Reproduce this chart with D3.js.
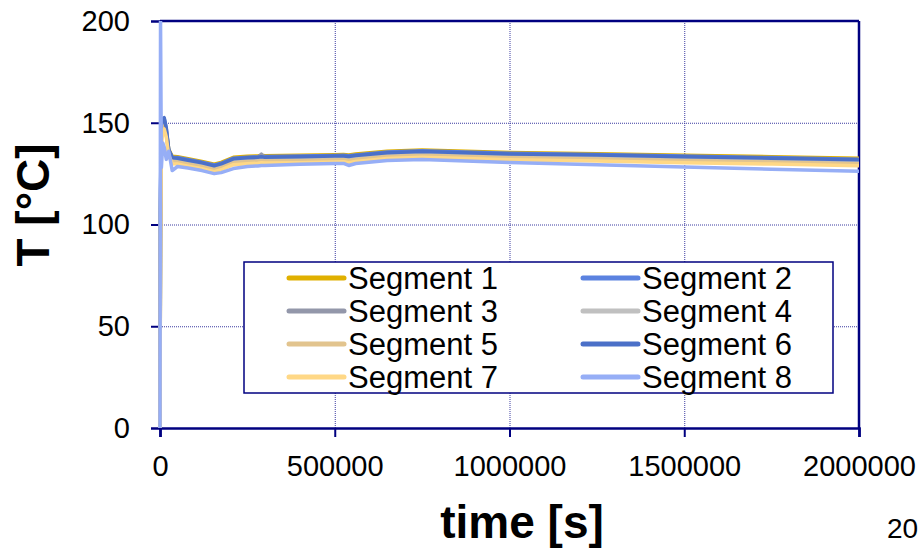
<!DOCTYPE html>
<html>
<head>
<meta charset="utf-8">
<script src="https://cdn.jsdelivr.net/npm/d3@7"></script>
<style>
  body { margin: 0; background: #fff; }
  svg { display: block; font-family: "Liberation Sans", Arial, sans-serif; }
</style>
</head>
<body>
<script>
// time points [s]
const times = [0, 1500, 4000, 8000, 12000, 18000, 25000, 35000, 50000, 80000, 120000, 155000, 175000, 210000, 250000, 280000, 290000, 300000, 400000, 500000, 525000, 540000, 560000, 650000, 750000, 1000000, 1250000, 1500000, 1750000, 2000000];

// temperatures [°C] for each segment
const segment1 = [0, 110, 146, 150, 150.5, 146, 137, 133.5, 133.3, 132.3, 131, 129.6, 130.5, 133, 133.5, 133.7, 134, 133.8, 134, 134.3, 134.4, 134.2, 134.6, 136, 136.6, 135.4, 134.8, 134, 133.3, 132.5];
const segment2 = [0, 115, 148, 151.5, 152, 147, 136.5, 133.1, 132.9, 131.9, 130.6, 129.2, 130.1, 132.6, 133.1, 133.3, 133.8, 133.4, 133.6, 133.9, 134, 133.8, 134.2, 135.6, 136.2, 135, 134.4, 133.6, 132.9, 132.1];
const segment3 = [0, 105, 144, 149, 149.5, 145, 136, 132.5, 132.3, 131.3, 130, 128.6, 129.5, 132, 132.5, 132.7, 134.6, 132.8, 133, 133.3, 133.4, 133.1, 133.6, 135, 135.6, 134.4, 133.8, 133, 132.3, 131.5];
const segment4 = [0, 100, 143, 148.5, 149, 144.5, 135.5, 131.9, 131.7, 130.7, 129.4, 128, 128.9, 131.4, 131.9, 132.1, 132.4, 132.2, 132.4, 132.7, 132.8, 132.5, 133, 134.4, 135, 133.8, 133.2, 132.4, 131.7, 130.9];
const segment5 = [0, 98, 142, 148, 148.5, 144, 135, 130.9, 130.7, 129.7, 128.4, 127, 127.9, 130.4, 130.9, 131.1, 131.4, 131.2, 131.4, 131.7, 131.8, 131.4, 132, 133.4, 134, 132.8, 132.2, 131.4, 130.7, 129.9];
const segment6 = [0, 118, 149, 152, 152.5, 147.5, 136.8, 132.8, 132.6, 131.6, 130.3, 128.9, 129.8, 132.3, 132.8, 133, 133.3, 133.1, 133.3, 133.6, 133.7, 133.4, 133.9, 135.3, 135.9, 134.7, 134.1, 133.3, 132.6, 131.8];
const segment7 = [0, 95, 140, 146, 147, 143, 134, 129.9, 129.7, 128.7, 127.4, 126, 126.9, 129.4, 129.9, 130.1, 130.4, 130.2, 130.4, 130.7, 130.8, 130.3, 131, 132.4, 133, 131.8, 131.2, 130.4, 129.7, 128.9];
const segment8 = [0, 200, 128, 140, 138, 132, 136, 126.5, 128.5, 127.8, 126.5, 125, 125.5, 127.5, 128.5, 128.8, 129, 129, 129.6, 130, 130, 129, 130, 131.5, 132, 130.5, 129.3, 128.2, 127.2, 126.2];

const seriesNames = ["Segment 1", "Segment 2", "Segment 3", "Segment 4", "Segment 5", "Segment 6", "Segment 7", "Segment 8"];
const seriesValues = [segment1, segment2, segment3, segment4, segment5, segment6, segment7, segment8];
const seriesColors = ["#e0b000", "#5b82e0", "#9397aa", "#c0c0c0", "#e2c48e", "#4b70c8", "#ffd886", "#96aef6"];

const xTicks = [0, 500000, 1000000, 1500000, 2000000];
const yTicks = [0, 50, 100, 150, 200];

const W = 920, H = 549;
const margin = {top: 21, right: 61, bottom: 121, left: 160};
const width = W - margin.left - margin.right;
const height = H - margin.top - margin.bottom;
const NAVY = "#000080";

const svg = d3.select("body").append("svg")
  .attr("width", W)
  .attr("height", H);

const x = d3.scaleLinear().domain([0, 2000000]).range([0, width]);
const y = d3.scaleLinear().domain([0, 200]).range([height, 0]);

const g = svg.append("g").attr("transform", `translate(${margin.left},${margin.top})`);

// dotted grid
const gridX = g.append("g")
  .attr("transform", `translate(0,${height})`)
  .call(d3.axisBottom(x).tickValues(xTicks.slice(1, -1)).tickSize(-height).tickFormat(""));
const gridY = g.append("g")
  .call(d3.axisLeft(y).tickValues(yTicks.slice(1, -1)).tickSize(-width).tickFormat(""));
[gridX, gridY].forEach(gr => {
  gr.select(".domain").remove();
  gr.selectAll("line")
    .attr("stroke", "#3a3aa0")
    .attr("stroke-width", 1)
    .attr("stroke-dasharray", "1,1");
});

// frame (top and right)
g.append("line").attr("x1", 0).attr("x2", width).attr("y1", 0).attr("y2", 0)
  .attr("stroke", NAVY).attr("stroke-width", 2.5);
g.append("line").attr("x1", width).attr("x2", width).attr("y1", 0).attr("y2", height)
  .attr("stroke", NAVY).attr("stroke-width", 2.5);

// axes
const xAxis = g.append("g")
  .attr("transform", `translate(0,${height})`)
  .call(d3.axisBottom(x).tickValues(xTicks).tickSize(9).tickPadding(18).tickFormat(d3.format("d")));
const yAxis = g.append("g")
  .call(d3.axisLeft(y).tickValues(yTicks).tickSize(9).tickPadding(21).tickFormat(d3.format("d")));

xAxis.select(".domain").attr("stroke", NAVY).attr("stroke-width", 2.7);
yAxis.select(".domain").attr("stroke", NAVY).attr("stroke-width", 2);
[xAxis, yAxis].forEach(ax => {
  ax.selectAll(".tick line").attr("stroke", NAVY).attr("stroke-width", 2);
  ax.selectAll(".tick text")
    .attr("fill", "#000")
    .style("font-size", "29px")
    .style("font-family", "'Liberation Sans', Arial, sans-serif");
});

// lines, drawn over the axes so segment 8's start covers the y axis
g.append("clipPath").attr("id", "plotclip")
  .append("rect").attr("x", -2).attr("y", 0).attr("width", width + 2).attr("height", height);

const line = d3.line()
  .x((d, i) => x(times[i]))
  .y(d => y(d));

const plot = g.append("g").attr("clip-path", "url(#plotclip)");
seriesValues.forEach((vals, k) => {
  plot.append("path")
    .datum(vals)
    .attr("d", line)
    .attr("fill", "none")
    .attr("stroke", seriesColors[k])
    .attr("stroke-width", 3.5)
    .attr("stroke-linejoin", "round");
});

// legend
const legX = 84, legY = 241, legW = 589, legH = 131;
const legend = g.append("g").attr("transform", `translate(${legX},${legY})`);
legend.append("rect")
  .attr("width", legW).attr("height", legH)
  .attr("fill", "#fff")
  .attr("stroke", NAVY)
  .attr("stroke-width", 1.5);

const rowY = d3.scalePoint().domain([0, 1, 2, 3]).range([16, 115]);
const colX = [45, 339];

seriesNames.forEach((name, k) => {
  const col = k % 2, row = Math.floor(k / 2);
  const item = legend.append("g")
    .attr("transform", `translate(${colX[col]},${rowY(row)})`);
  item.append("line")
    .attr("x1", 0).attr("x2", 55)
    .attr("stroke", seriesColors[k])
    .attr("stroke-width", 5)
    .attr("stroke-linecap", "round");
  item.append("text")
    .attr("x", 59)
    .attr("dy", "0.36em")
    .style("font-size", "31px")
    .attr("fill", "#000")
    .text(name);
});

// axis titles
svg.append("text")
  .attr("x", 522)
  .attr("y", 538)
  .attr("text-anchor", "middle")
  .style("font-size", "46px")
  .style("font-weight", "bold")
  .text("time [s]");

svg.append("text")
  .attr("transform", "translate(49,205) rotate(-90)")
  .attr("text-anchor", "middle")
  .style("font-size", "46px")
  .style("font-weight", "bold")
  .text("T [°C]");

// page number
svg.append("text")
  .attr("x", 887)
  .attr("y", 538)
  .style("font-size", "28px")
  .text("20");
</script>
</body>
</html>
